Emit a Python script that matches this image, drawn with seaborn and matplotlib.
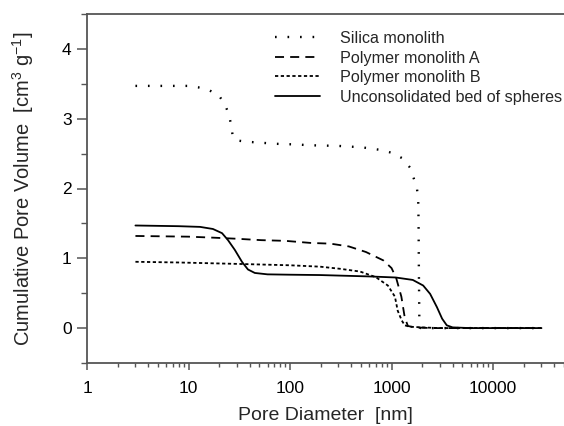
import matplotlib
matplotlib.use("Agg")
import matplotlib.pyplot as plt
import matplotlib.ticker as mticker
import numpy as np
import pandas as pd
import seaborn as sns

# ---- data ----
silica_x = [3, 5, 8, 9.7, 12.4, 15.9, 20, 22.9, 25, 26.2, 27.2, 29.3, 37.6, 47, 59, 74,
            120, 152, 300, 511, 640, 805, 1010, 1290, 1520, 1660, 1780, 1830, 1845,
            1860, 1880, 1900, 1950, 2500, 5000, 10000, 30000]
silica_y = [3.47, 3.47, 3.47, 3.47, 3.45, 3.41, 3.33, 3.20, 3.06, 2.92, 2.76, 2.69, 2.67,
            2.66, 2.65, 2.64, 2.63, 2.62, 2.61, 2.59, 2.57, 2.55, 2.51, 2.43, 2.30, 2.14,
            2.00, 1.85, 1.56, 0.80, 0.07, 0.01, 0.0, 0.0, 0.0, 0.0, 0.0]

polyA_x = [3, 10, 18, 30, 52, 90, 160, 250, 380, 560, 830, 1000, 1110, 1250, 1350,
           1450, 1700, 2500, 5000, 10000, 30000]
polyA_y = [1.32, 1.31, 1.295, 1.28, 1.26, 1.25, 1.22, 1.21, 1.17, 1.09, 0.97, 0.86,
           0.72, 0.45, 0.15, 0.03, 0.01, 0.0, 0.0, 0.0, 0.0]

polyB_x = [3, 8, 30, 100, 198, 310, 490, 700, 920, 1080, 1150, 1260, 1350, 1500,
           2000, 3000, 5000, 10000, 30000]
polyB_y = [0.95, 0.94, 0.92, 0.90, 0.88, 0.85, 0.81, 0.73, 0.61, 0.45, 0.25, 0.11,
           0.04, 0.02, 0.01, 0.0, 0.0, 0.0, 0.0]

bed_x = [3, 8, 13, 17.4, 21.4, 24.5, 28.6, 33.6, 38.5, 45, 60, 100, 198, 610, 1100,
         1620, 2050, 2400, 2800, 3150, 3500, 4000, 6000, 10000, 30000]
bed_y = [1.47, 1.46, 1.45, 1.42, 1.36, 1.26, 1.12, 0.95, 0.84, 0.79, 0.77, 0.765,
         0.76, 0.74, 0.725, 0.69, 0.61, 0.49, 0.30, 0.135, 0.04, 0.01, 0.0, 0.0, 0.0]

labels = ["Silica monolith", "Polymer monolith A", "Polymer monolith B",
          "Unconsolidated bed of spheres"]

x_ticks = [1, 10, 100, 1000, 10000]
y_ticks = [0, 1, 2, 3, 4]

# ---- style ----
sns.set_theme(style="ticks")
plt.rcParams['font.family'] = ['Liberation Sans', 'DejaVu Sans']
plt.rcParams['mathtext.fontset'] = 'custom'
plt.rcParams['mathtext.rm'] = 'Liberation Sans'
plt.rcParams['mathtext.it'] = 'Liberation Sans:italic'

fig = plt.figure(figsize=(5.64, 4.26), dpi=100)
L, R, T, B = 87, 564, 14, 363
W, H = 564, 426
ax = fig.add_axes([L / W, 1 - B / H, (R - L) / W, (B - T) / H])

frames = [
    (silica_x, silica_y, labels[0], dict(lw=1.7, linestyle=(0, (0.7, 4.6)))),
    (polyA_x, polyA_y, labels[1], dict(lw=1.3, linestyle=(0, (5.0, 3.4)))),
    (polyB_x, polyB_y, labels[2], dict(lw=1.3, linestyle=(0, (1.8, 1.4)))),
    (bed_x, bed_y, labels[3], dict(lw=1.3, linestyle='-')),
]
for xs, ys, lab, kw in frames:
    df = pd.DataFrame({"x": xs, "y": ys})
    sns.lineplot(data=df, x="x", y="y", ax=ax, color="black", label=lab,
                 sort=False, estimator=None, **kw)

ax.set_xscale("log")
ax.set_xlim(1, 50000)
ax.set_ylim(-0.5, 4.5)
ax.set_xticks(x_ticks)
ax.set_xticklabels([str(t) for t in x_ticks])
ax.xaxis.set_minor_locator(mticker.LogLocator(base=10, subs=np.arange(2, 10)))
ax.xaxis.set_minor_formatter(mticker.NullFormatter())
ax.set_yticks(y_ticks)
ax.yaxis.set_minor_locator(mticker.MultipleLocator(0.5))

spine_col = "#555555"
for s in ["left", "top", "bottom"]:
    ax.spines[s].set_color(spine_col)
    ax.spines[s].set_linewidth(1.3)
ax.spines["right"].set_visible(False)

ax.tick_params(axis="both", which="both", direction="out", colors=spine_col,
               labelcolor="black", labelsize=12.5, top=False, right=False)
ax.tick_params(axis="x", which="major", length=5, width=1.1, pad=8)
ax.tick_params(axis="x", which="minor", length=3, width=1.0)
ax.tick_params(axis="y", which="major", length=7, width=1.1, pad=4)
ax.tick_params(axis="y", which="minor", length=4, width=1.0)

ax.set_xlabel("Pore Diameter  [nm]", fontsize=14, labelpad=8)
ax.set_ylabel(r"Cumulative Pore Volume  [cm$^3$ g$^{-1}$]", fontsize=14.5, labelpad=19)

leg = ax.legend(loc="upper left", bbox_to_anchor=(275 / W, 1 - 31 / H),
                bbox_transform=fig.transFigure, frameon=False, fontsize=11.6,
                handlelength=2.8, handletextpad=1.25, labelspacing=0.28,
                borderpad=0, borderaxespad=0)

fig.savefig("out.png", dpi=100)
